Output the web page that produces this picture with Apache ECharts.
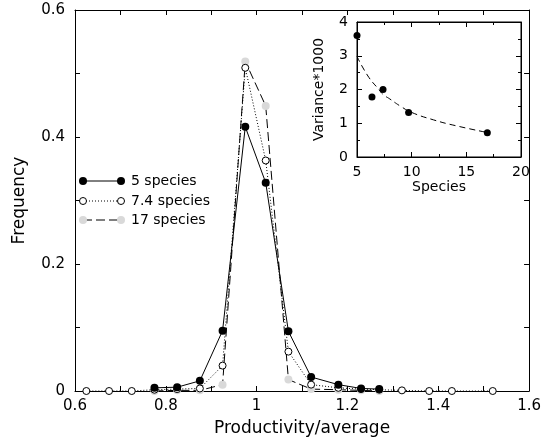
<!DOCTYPE html>
<html>
<head>
<meta charset="utf-8">
<script src="https://cdn.jsdelivr.net/npm/echarts@6/dist/echarts.min.js"></script>
<style>html,body{margin:0;padding:0;background:#fff}#c{width:544px;height:442px}</style>
</head>
<body>
<div id="c"></div>
<script>
// ---- Main chart data ----
const x5 = [0.775, 0.825, 0.875, 0.925, 0.975, 1.02, 1.07, 1.12, 1.18, 1.23, 1.27];
const y5 = [0.005, 0.006, 0.016, 0.095, 0.416, 0.328, 0.094, 0.022, 0.010, 0.004, 0.003];
const x74 = [0.625, 0.675, 0.725, 0.775, 0.825, 0.875, 0.925, 0.975, 1.02, 1.07, 1.12, 1.18, 1.23, 1.27, 1.32, 1.38, 1.43, 1.52];
const y74 = [0, 0, 0, 0.002, 0.003, 0.004, 0.040, 0.509, 0.363, 0.062, 0.010, 0.005, 0.003, 0.002, 0.001, 0, 0, 0];
const x17 = [0.775, 0.825, 0.875, 0.925, 0.975, 1.02, 1.07, 1.12, 1.18, 1.23, 1.27];
const y17 = [0, 0.001, 0.001, 0.010, 0.519, 0.449, 0.018, 0.003, 0.002, 0.001, 0];
const seriesNames = ['5 species', '7.4 species', '17 species'];

// ---- Inset data ----
const speciesPts = [5, 6.37, 7.38, 9.72, 16.92];
const variancePts = [3.6, 1.78, 2.0, 1.32, 0.72];
const fitSpecies = [5, 6, 7, 7.4, 8, 9, 10, 12, 14, 17];
const fitVariance = [2.98, 2.4, 2.0, 1.85, 1.72, 1.5, 1.32, 1.1, 0.93, 0.72];

const zip = (a, b) => a.map((v, i) => [v, b[i]]);
const FONT = 'DejaVu Sans';

const chart = echarts.init(document.getElementById('c'), null, {renderer: 'canvas'});

const tickCommon = {inside: true, length: 5, lineStyle: {color: '#000', width: 1}};
const axisLineCommon = {show: true, onZero: false, lineStyle: {color: '#000', width: 1}};

const option = {
  animation: false,
  backgroundColor: '#fff',
  textStyle: {fontFamily: FONT},
  grid: [
    {left: 75, right: 12, top: 10, bottom: 50, show: false},
    {left: 357, top: 22, width: 164, height: 135, show: true, backgroundColor: '#fff', borderColor: '#000', borderWidth: 1, z: 5}
  ],
  xAxis: [
    {type: 'value', gridIndex: 0, min: 0.6, max: 1.6, interval: 0.2, position: 'bottom',
     axisLine: axisLineCommon, axisTick: tickCommon,
     minorTick: {show: true, splitNumber: 2, length: 5, lineStyle: {color: '#000'}},
     splitLine: {show: false},
     axisLabel: {fontFamily: FONT, fontSize: 15, color: '#000', margin: 8},
     name: 'Productivity/average', nameLocation: 'middle', nameGap: 29,
     nameTextStyle: {fontFamily: FONT, fontSize: 17, color: '#000'}},
    {type: 'value', gridIndex: 0, min: 0.6, max: 1.6, interval: 0.2, position: 'top',
     axisLine: axisLineCommon, axisTick: tickCommon,
     minorTick: {show: true, splitNumber: 2, length: 5, lineStyle: {color: '#000'}},
     splitLine: {show: false}, axisLabel: {show: false}},
    {type: 'value', gridIndex: 1, min: 5, max: 20, interval: 5, position: 'bottom', z: 6,
     axisLine: axisLineCommon, axisTick: {inside: true, length: 5, lineStyle: {color: '#000'}},
     minorTick: {show: true, splitNumber: 2, length: 3, lineStyle: {color: '#000'}},
     splitLine: {show: false},
     axisLabel: {fontFamily: FONT, fontSize: 14, color: '#000', margin: 8},
     name: 'Species', nameLocation: 'middle', nameGap: 18,
     nameTextStyle: {fontFamily: FONT, fontSize: 14, color: '#000'}},
    {type: 'value', gridIndex: 1, min: 5, max: 20, interval: 5, position: 'top', z: 6,
     axisLine: axisLineCommon, axisTick: {inside: true, length: 5, lineStyle: {color: '#000'}},
     minorTick: {show: true, splitNumber: 2, length: 3, lineStyle: {color: '#000'}},
     splitLine: {show: false}, axisLabel: {show: false}}
  ],
  yAxis: [
    {type: 'value', gridIndex: 0, min: 0, max: 0.6, interval: 0.2, position: 'left',
     axisLine: axisLineCommon, axisTick: tickCommon,
     minorTick: {show: true, splitNumber: 2, length: 5, lineStyle: {color: '#000'}},
     splitLine: {show: false},
     axisLabel: {fontFamily: FONT, fontSize: 15, color: '#000', margin: 10},
     name: 'Frequency', nameLocation: 'middle', nameGap: 47,
     nameTextStyle: {fontFamily: FONT, fontSize: 17, color: '#000'}},
    {type: 'value', gridIndex: 0, min: 0, max: 0.6, interval: 0.2, position: 'right',
     axisLine: axisLineCommon, axisTick: tickCommon,
     minorTick: {show: true, splitNumber: 2, length: 5, lineStyle: {color: '#000'}},
     splitLine: {show: false}, axisLabel: {show: false}},
    {type: 'value', gridIndex: 1, min: 0, max: 4, interval: 1, position: 'left', z: 6,
     axisLine: axisLineCommon, axisTick: {inside: true, length: 5, lineStyle: {color: '#000'}},
     minorTick: {show: true, splitNumber: 2, length: 3, lineStyle: {color: '#000'}},
     splitLine: {show: false},
     axisLabel: {fontFamily: FONT, fontSize: 14, color: '#000', margin: 9},
     name: 'Variance*1000', nameLocation: 'middle', nameGap: 31,
     nameTextStyle: {fontFamily: FONT, fontSize: 14, color: '#000'}},
    {type: 'value', gridIndex: 1, min: 0, max: 4, interval: 1, position: 'right', z: 6,
     axisLine: axisLineCommon, axisTick: {inside: true, length: 5, lineStyle: {color: '#000'}},
     minorTick: {show: true, splitNumber: 2, length: 3, lineStyle: {color: '#000'}},
     splitLine: {show: false}, axisLabel: {show: false}}
  ],
  series: [
    {name: seriesNames[2], type: 'line', xAxisIndex: 0, yAxisIndex: 0, data: zip(x17, y17),
     symbol: 'circle', symbolSize: 8, showAllSymbol: true, z: 2,
     itemStyle: {color: '#d9d9d9', opacity: 1},
     lineStyle: {color: '#000', width: 1, type: [9, 4]}},
    {name: seriesNames[1], type: 'line', xAxisIndex: 0, yAxisIndex: 0, data: zip(x74, y74),
     symbol: 'circle', symbolSize: 7, showAllSymbol: true, z: 3,
     itemStyle: {color: '#fff', borderColor: '#000', borderWidth: 1, opacity: 1},
     lineStyle: {color: '#000', width: 1, type: [1, 2]}},
    {name: seriesNames[0], type: 'line', xAxisIndex: 0, yAxisIndex: 0, data: zip(x5, y5),
     symbol: 'circle', symbolSize: 8, showAllSymbol: true, z: 4,
     itemStyle: {color: '#000', opacity: 1},
     lineStyle: {color: '#000', width: 1}},
    {type: 'line', xAxisIndex: 2, yAxisIndex: 2, data: zip(fitSpecies, fitVariance),
     symbol: 'none', smooth: true, z: 7,
     lineStyle: {color: '#000', width: 1, type: [6, 4]}},
    {type: 'scatter', xAxisIndex: 2, yAxisIndex: 2, data: zip(speciesPts, variancePts),
     symbol: 'circle', symbolSize: 7, z: 8, itemStyle: {color: '#000', opacity: 1}}
  ],
  graphic: [
    // legend: 5 species
    {type: 'line', shape: {x1: 83, y1: 181, x2: 121, y2: 181}, style: {stroke: '#000', lineWidth: 1}, z: 10},
    {type: 'circle', shape: {cx: 83, cy: 181, r: 4}, style: {fill: '#000'}, z: 11},
    {type: 'circle', shape: {cx: 121, cy: 181, r: 4}, style: {fill: '#000'}, z: 11},
    {type: 'text', x: 131, y: 181, style: {text: seriesNames[0], font: '14px "DejaVu Sans"', fill: '#000', verticalAlign: 'middle'}, z: 11},
    // legend: 7.4 species
    {type: 'line', shape: {x1: 83, y1: 201, x2: 121, y2: 201}, style: {stroke: '#000', lineWidth: 1, lineDash: [1, 2]}, z: 10},
    {type: 'circle', shape: {cx: 83, cy: 201, r: 3.5}, style: {fill: '#fff', stroke: '#000', lineWidth: 1}, z: 11},
    {type: 'circle', shape: {cx: 121, cy: 201, r: 3.5}, style: {fill: '#fff', stroke: '#000', lineWidth: 1}, z: 11},
    {type: 'text', x: 131, y: 201, style: {text: seriesNames[1], font: '14px "DejaVu Sans"', fill: '#000', verticalAlign: 'middle'}, z: 11},
    // legend: 17 species
    {type: 'line', shape: {x1: 83, y1: 220, x2: 121, y2: 220}, style: {stroke: '#000', lineWidth: 1, lineDash: [9, 4]}, z: 10},
    {type: 'circle', shape: {cx: 83, cy: 220, r: 4}, style: {fill: '#d9d9d9'}, z: 11},
    {type: 'circle', shape: {cx: 121, cy: 220, r: 4}, style: {fill: '#d9d9d9'}, z: 11},
    {type: 'text', x: 131, y: 220, style: {text: seriesNames[2], font: '14px "DejaVu Sans"', fill: '#000', verticalAlign: 'middle'}, z: 11}
  ]
};
chart.setOption(option);
</script>
</body>
</html>
